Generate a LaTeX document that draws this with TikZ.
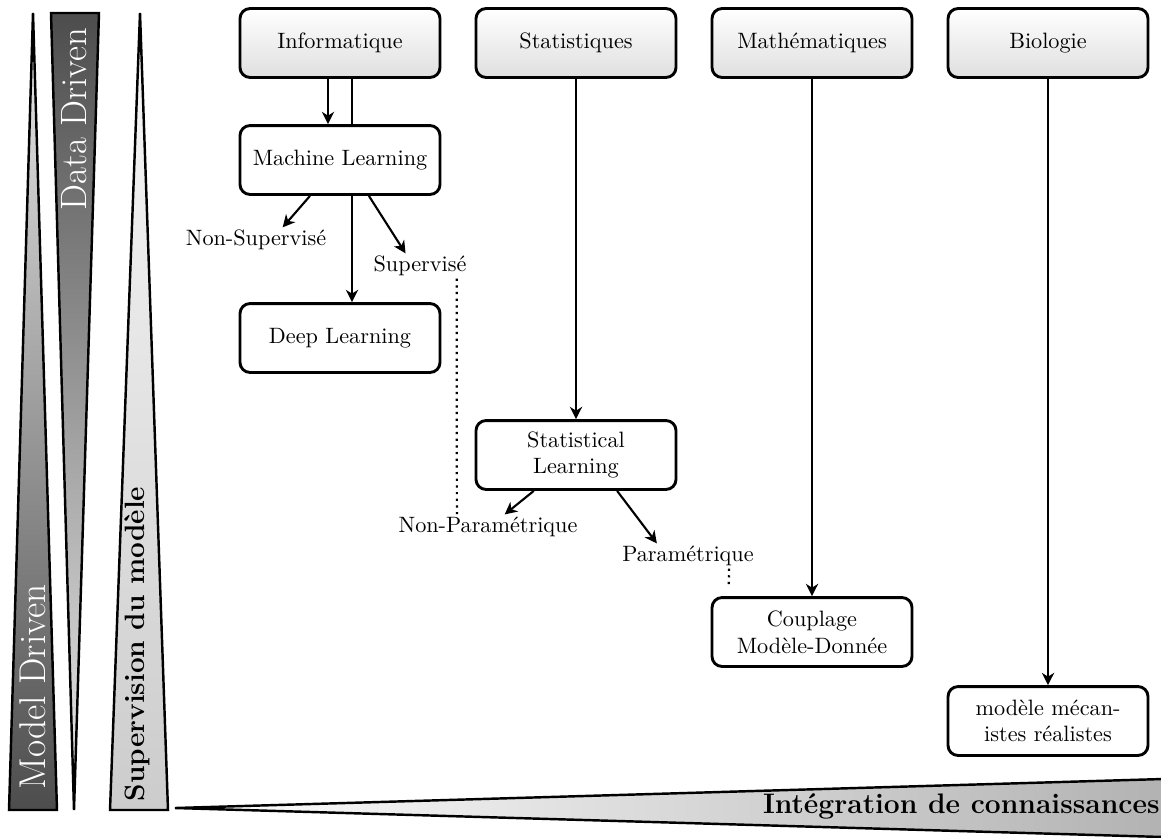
\documentclass[tikz,border=0pt]{standalone}
\usetikzlibrary{positioning, arrows.meta}
\begin{document}
\begin{tikzpicture}[x=0.45pt, y=-0.45pt,
    box/.style={draw, line width=1.3pt, rounded corners=4.5pt, minimum width=90pt,
      minimum height=31pt, align=center, inner sep=2pt},
    field/.style={box, top color=white, bottom color=gray!25},
    link/.style={-{Stealth[length=5.5pt, width=5.5pt, inset=1.7pt]}, line width=0.95pt},
    branch/.style={inner sep=1pt},
    wedge/.style={line width=1.1pt}]
  \useasboundingbox (0,0) rectangle (1161,837);

  % trois triangles verticaux et un horizontal
  \shadedraw[wedge, top color=gray!15, bottom color=black!70] (33,13) -- (57,810) -- (9,810) -- cycle;
  \shadedraw[wedge, top color=black!70, bottom color=gray!15] (51,13) -- (99,13) -- (74,810) -- cycle;
  \shadedraw[wedge, top color=gray!5, bottom color=gray!40] (140,13) -- (168,810) -- (110,810) -- cycle;
  \shadedraw[wedge, left color=white, right color=black!30] (175,808) -- (1163,779) -- (1163,837) -- cycle;

  \node[rotate=90, anchor=west, text=white, font=\fontsize{16.8}{19}\selectfont] (model) at (33,797) {Model Driven};
  \node[rotate=90, anchor=east, text=white, font=\fontsize{16.5}{19}\selectfont] (data) at (74,20) {Data Driven};
  \node[rotate=90, anchor=west, font=\fontsize{12.6}{15}\selectfont\bfseries] (superv) at (137,809) {Supervision du modèle};
  \node[anchor=base east, inner sep=0pt, font=\fontsize{12.7}{15}\selectfont\bfseries] (integ) at (1160,813) {Intégration de connaissances};

  % disciplines
  \node[field] (info) at (340,43) {Informatique};
  \node[field] (stat) at (576,43) {Statistiques};
  \node[field] (math) at (812,43) {Mathématiques};
  \node[field] (bio) at (1048,43) {Biologie};

  \node[box] (ml) at (340,160) {Machine Learning};
  \node[box] (dl) at (340,338) {Deep Learning};
  \node[box] (sl) at (576,455) {Statistical\\Learning};
  \node[box] (coup) at (812,632) {Couplage\\Modèle-Donnée};
  \node[box] (meca) at (1048,721) {modèle mécan-\\istes réalistes};

  \node[branch] (nsup) at (256,240) {Non-Supervisé};
  \node[branch] (sup) at (420,266) {Supervisé};
  \node[branch] (nonpar) at (488,527) {Non-Paramétrique};
  \node[branch] (par) at (688,556) {Paramétrique};

  % liens
  \draw[link] ([xshift=-5.4pt]info.south) -- ([xshift=-5.4pt]ml.north);
  \draw[line width=0.95pt] ([xshift=5.4pt]info.south) -- ([xshift=5.4pt]ml.north);
  \draw[link] ([xshift=5.4pt]ml.south) -- ([xshift=5.4pt]dl.north);
  \draw[link] ([xshift=-13.5pt]ml.south) -- ([xshift=12pt]nsup.north);
  \draw[link] ([xshift=13pt]ml.south) -- ([xshift=-6.5pt]sup.north);
  \draw[dotted, line width=1pt] ([xshift=16.5pt]sup.south) -- ([xshift=-14pt]nonpar.north);

  \draw[link] (stat) -- (sl);
  \draw[link] ([xshift=-19pt]sl.south) -- ([xshift=7.5pt]nonpar.north);
  \draw[link] ([xshift=18.5pt]sl.south) -- ([xshift=-14pt]par.north);
  \draw[dotted, line width=1pt] ([xshift=18.5pt]par.south) -- ([xshift=-37.5pt, yshift=4.5pt]coup.north);

  \draw[link] (math) -- (coup);
  \draw[link] (bio) -- (meca);
\end{tikzpicture}
\end{document}
